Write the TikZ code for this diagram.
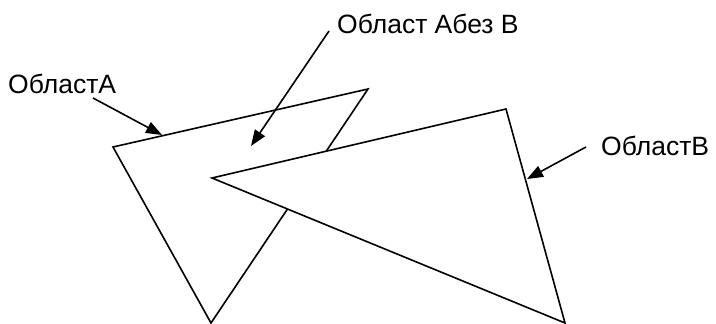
\documentclass[tikz,border=0pt]{standalone}
\usepackage{fontspec}
\setmainfont{Liberation Sans}
\usetikzlibrary{arrows.meta}

\begin{document}
\begin{tikzpicture}[x=1pt, y=-1pt,
  region/.style={draw, line width=1.6pt, line join=miter},
  lbl/.style={font=\fontsize{26.5}{30}\selectfont, inner sep=0pt, anchor=base west},
  arr/.style={-{Triangle[length=16pt, width=12pt]}, line width=1.6pt}]
\useasboundingbox (0,0) rectangle (716,324);
% corners of the two regions
\coordinate (a1) at (113,147);
\coordinate (a2) at (368,89);
\coordinate (a3) at (211,323);
\coordinate (b1) at (212,178);
\coordinate (b2) at (506,109);
\coordinate (b3) at (565,323);
\draw[region] (a1) -- (a2) -- (a3) -- cycle;
\draw[region, fill=white] (b1) -- (b2) -- (b3) -- cycle;
% labels
\node[lbl] (labA) at (8,93) {ОбластA};
\node[lbl] (labAB) at (337,33) {Област Абез В};
\node[lbl] (labB) at (601,155) {ОбластВ};
% arrow ends
\coordinate (sA) at (93,98);
\coordinate (tA) at (162,135);
\coordinate (sAB) at (329,31);
\coordinate (tAB) at (251,146);
\coordinate (sB) at (586,147);
\coordinate (tB) at (527,179);
\foreach \a/\b in {sA/tA, sAB/tAB, sB/tB} \draw[arr] (\a) -- (\b);
\end{tikzpicture}
\end{document}
